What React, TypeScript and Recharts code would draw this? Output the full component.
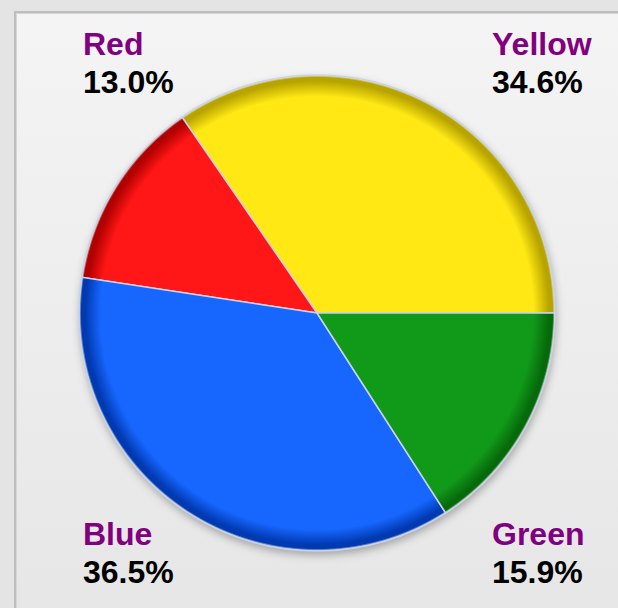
import React from "react";
import { PieChart, Pie, Cell } from "recharts";

const names = ["Yellow", "Red", "Blue", "Green"];
const values = [34.6, 13.0, 36.5, 15.9];
const colors = ["#ffe814", "#ff1616", "#1767ff", "#11991a"];
const darkColors = ["#b8a400", "#b00000", "#0039b0", "#066a0a"];

const data = names.map((name, i) => ({ name, value: values[i] }));
const shadowData = [{ name: "shadow", value: 1 }];

const W = 618;
const H = 608;
const CX = 317;
const CY = 313;
const R = 238;

const cornerPos: Record<string, React.CSSProperties> = {
  Red: { left: 83, top: 25 },
  Yellow: { left: 492, top: 25 },
  Blue: { left: 83, top: 515 },
  Green: { left: 492, top: 515 },
};

export default function App() {
  return (
    <div
      style={{
        position: "absolute",
        left: 0,
        top: 0,
        width: W,
        height: H,
        background: "#e4e4e4",
        overflow: "hidden",
        fontFamily: "'Liberation Sans', Arial, sans-serif",
      }}
    >
      <div
        style={{
          position: "absolute",
          left: 14,
          top: 11,
          width: W,
          height: H,
          borderLeft: "2px solid #bdbdbd",
          borderTop: "2px solid #bdbdbd",
          boxShadow: "inset 1px 1px 0 #d6d6d6",
          background: "linear-gradient(#f4f4f4, #e6e6e6)",
        }}
      />
      <svg width={0} height={0} style={{ position: "absolute" }}>
        <defs>
          {colors.map((c, i) => (
            <radialGradient
              key={i}
              id={`grad-${i}`}
              gradientUnits="userSpaceOnUse"
              cx={CX}
              cy={CY}
              r={R}
            >
              <stop offset="0" stopColor={c} />
              <stop offset="0.91" stopColor={c} />
              <stop offset="0.975" stopColor={darkColors[i]} />
              <stop offset="0.99" stopColor={darkColors[i]} />
              <stop offset="1" stopColor="#e8ecf0" />
            </radialGradient>
          ))}
          <filter id="pieShadow" x="-20%" y="-20%" width="140%" height="140%">
            <feGaussianBlur stdDeviation="4" />
          </filter>
        </defs>
      </svg>
      <div style={{ position: "absolute", left: 0, top: 0 }}>
        <PieChart width={W} height={H} margin={{ top: 0, right: 0, bottom: 0, left: 0 }}>
          <Pie
            data={shadowData}
            dataKey="value"
            cx={CX + 1}
            cy={CY + 4}
            outerRadius={R}
            startAngle={0}
            endAngle={360}
            stroke="none"
            isAnimationActive={false}
          >
            <Cell fill="rgba(0,0,0,0.3)" filter="url(#pieShadow)" />
          </Pie>
          <Pie
            data={data}
            dataKey="value"
            cx={CX}
            cy={CY}
            outerRadius={R}
            startAngle={0}
            endAngle={360}
            stroke="#c9d3e6"
            strokeWidth={1.5}
            isAnimationActive={false}
          >
            {data.map((d, i) => (
              <Cell key={d.name} fill={`url(#grad-${i})`} />
            ))}
          </Pie>
        </PieChart>
      </div>
      {data.map((d) => (
        <div
          key={d.name}
          style={{
            position: "absolute",
            ...cornerPos[d.name],
            fontWeight: "bold",
            fontSize: 32,
            lineHeight: "38px",
          }}
        >
          <div style={{ color: "#800080" }}>{d.name}</div>
          <div style={{ color: "#000" }}>{d.value.toFixed(1)}%</div>
        </div>
      ))}
    </div>
  );
}
